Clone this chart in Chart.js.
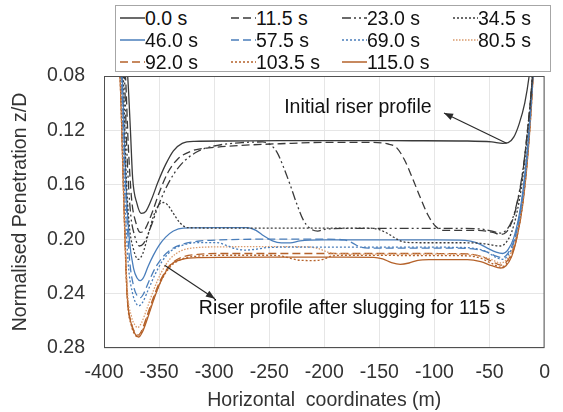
<!DOCTYPE html>
<html>
<head>
<meta charset="utf-8">
<script src="https://cdn.jsdelivr.net/npm/chart.js@4.4.1/dist/chart.umd.min.js"></script>
<style>
    html, body { margin: 0; padding: 0; background: #fff; }
    #wrap { position: relative; width: 563px; height: 412px; }
    #legend {
        position: absolute; left: 115px; top: 5px; width: 436px; height: 67px;
        border: 1px solid #a6a6a6; background: #fff; box-sizing: border-box;
        padding: 1px 0 0 4px; display: grid; grid-template-columns: 111px 111px 111px 100px;
        grid-auto-rows: 22px; font-family: "Liberation Sans", Arial, sans-serif; font-size: 19.5px; color: #111;
    }
    #legend .item { display: flex; align-items: center; white-space: nowrap; }
    #legend svg { flex: none; }
</style>
</head>
<body>
<div id="wrap">
    <canvas id="chart" width="563" height="412"></canvas>
    <div id="legend"></div>
</div>
<script>
// time labels of the riser profiles
const times = ['0.0 s', '11.5 s', '23.0 s', '34.5 s', '46.0 s', '57.5 s', '69.0 s', '80.5 s', '92.0 s', '103.5 s', '115.0 s'];

const xTicks = [-400, -350, -300, -250, -200, -150, -100, -50, 0];
const yTicks = [0.08, 0.12, 0.16, 0.20, 0.24, 0.28];

// profiles: [horizontal coordinate (m), z/D]
const p0 = [[-381, 0.06], [-378.5, 0.08], [-376, 0.12], [-374, 0.155], [-370, 0.174], [-366, 0.181], [-362, 0.1795], [-357, 0.171], [-351, 0.158], [-344, 0.145], [-337, 0.135], [-329, 0.1295], [-318, 0.128], [-290, 0.1278], [-240, 0.1275], [-180, 0.1275], [-120, 0.1276], [-70, 0.1278], [-48, 0.1285], [-38, 0.1295], [-33, 0.129], [-28, 0.125], [-23, 0.115], [-18, 0.1], [-14, 0.08], [-12, 0.065]];
const p1 = [[-383, 0.06], [-380.5, 0.08], [-378, 0.13], [-375, 0.17], [-371, 0.188], [-367, 0.195], [-363, 0.193], [-357, 0.182], [-350, 0.166], [-342, 0.151], [-333, 0.141], [-320, 0.135], [-300, 0.1325], [-275, 0.131], [-240, 0.1298], [-200, 0.1288], [-160, 0.1288], [-142, 0.13], [-134, 0.133], [-127, 0.142], [-120, 0.155], [-113, 0.169], [-106, 0.182], [-99, 0.1905], [-92, 0.1935], [-80, 0.1935], [-60, 0.1935], [-47, 0.195], [-40, 0.1965], [-35, 0.195], [-30, 0.188], [-25, 0.174], [-20, 0.152], [-15.5, 0.12], [-11.5, 0.085], [-10, 0.065]];
const p2 = [[-384, 0.06], [-381.5, 0.08], [-379, 0.14], [-376, 0.18], [-372, 0.198], [-368, 0.205], [-364, 0.203], [-358, 0.192], [-350, 0.174], [-341, 0.158], [-330, 0.145], [-315, 0.1355], [-297, 0.131], [-275, 0.129], [-256, 0.1285], [-249, 0.1305], [-243, 0.136], [-237, 0.147], [-231, 0.16], [-225, 0.174], [-219, 0.186], [-213, 0.192], [-206, 0.194], [-198, 0.1925], [-170, 0.192], [-120, 0.192], [-80, 0.192], [-58, 0.1925], [-46, 0.1945], [-40, 0.1955], [-35, 0.1935], [-30, 0.187], [-25, 0.173], [-20, 0.151], [-15.5, 0.12], [-11.5, 0.085], [-10, 0.065]];
const p3 = [[-385, 0.06], [-382.5, 0.08], [-380, 0.15], [-377, 0.19], [-373, 0.208], [-369, 0.2148], [-365, 0.211], [-360, 0.197], [-355, 0.183], [-350, 0.1745], [-346, 0.173], [-342, 0.175], [-337, 0.181], [-331, 0.188], [-324, 0.1915], [-300, 0.1918], [-250, 0.1918], [-200, 0.1918], [-160, 0.1918], [-150, 0.193], [-142, 0.196], [-134, 0.2], [-126, 0.2023], [-110, 0.2026], [-80, 0.2026], [-58, 0.203], [-46, 0.2045], [-40, 0.205], [-35, 0.2025], [-30, 0.195], [-25, 0.18], [-20, 0.156], [-15.5, 0.122], [-11.5, 0.085], [-10, 0.065]];
const p4 = [[-386, 0.06], [-383.5, 0.08], [-380, 0.16], [-377, 0.2], [-373, 0.222], [-370, 0.2285], [-367, 0.2305], [-364, 0.228], [-360, 0.22], [-355, 0.2115], [-350, 0.2045], [-344, 0.1985], [-337, 0.194], [-328, 0.1918], [-300, 0.1915], [-270, 0.1915], [-262, 0.1935], [-255, 0.1975], [-247, 0.2013], [-239, 0.2027], [-231, 0.2027], [-222, 0.2012], [-200, 0.2005], [-150, 0.2005], [-100, 0.2005], [-72, 0.2008], [-62, 0.2025], [-52, 0.2065], [-44, 0.2095], [-38, 0.2105], [-33, 0.2075], [-28, 0.199], [-23, 0.182], [-19, 0.16], [-15, 0.128], [-11.5, 0.09], [-9.5, 0.065]];
const p5 = [[-386.5, 0.06], [-384, 0.08], [-380, 0.17], [-377, 0.213], [-373, 0.235], [-370, 0.2415], [-367, 0.243], [-364, 0.24], [-359, 0.2305], [-353, 0.2205], [-346, 0.2125], [-338, 0.207], [-328, 0.2035], [-315, 0.2015], [-295, 0.2005], [-250, 0.2], [-200, 0.2], [-182, 0.2005], [-175, 0.2025], [-168, 0.2055], [-160, 0.2065], [-120, 0.2065], [-80, 0.2065], [-62, 0.2075], [-52, 0.2095], [-44, 0.2125], [-38, 0.2135], [-33, 0.21], [-28, 0.2015], [-23, 0.184], [-19, 0.162], [-15, 0.13], [-11.5, 0.09], [-9.5, 0.065]];
const p6 = [[-387, 0.06], [-384.5, 0.08], [-381, 0.17], [-378, 0.218], [-374, 0.24], [-371, 0.247], [-368.5, 0.249], [-365, 0.2465], [-360, 0.2375], [-354, 0.2265], [-347, 0.216], [-339, 0.2085], [-329, 0.2045], [-315, 0.2025], [-298, 0.2025], [-289, 0.2045], [-281, 0.207], [-272, 0.208], [-263, 0.2075], [-252, 0.2062], [-230, 0.2058], [-180, 0.2058], [-120, 0.2058], [-80, 0.206], [-62, 0.207], [-52, 0.2095], [-44, 0.2135], [-38, 0.2148], [-33, 0.2115], [-28, 0.203], [-23, 0.186], [-19, 0.164], [-15, 0.132], [-11.5, 0.092], [-9.5, 0.065]];
const p7 = [[-387.5, 0.06], [-385, 0.08], [-382, 0.17], [-379, 0.235], [-375, 0.257], [-372, 0.263], [-369.5, 0.265], [-366, 0.2615], [-361, 0.251], [-355, 0.2375], [-348, 0.2245], [-340, 0.2145], [-330, 0.2085], [-316, 0.2062], [-290, 0.2056], [-250, 0.2055], [-215, 0.2056], [-205, 0.207], [-197, 0.2095], [-188, 0.2107], [-150, 0.211], [-100, 0.211], [-70, 0.2112], [-58, 0.2125], [-48, 0.215], [-40, 0.2175], [-35, 0.2155], [-30, 0.209], [-25, 0.195], [-20, 0.172], [-16, 0.142], [-12, 0.1], [-9.5, 0.065]];
const p8 = [[-387.5, 0.06], [-385, 0.08], [-382, 0.17], [-379, 0.24], [-375, 0.262], [-372, 0.2685], [-369, 0.2705], [-366, 0.2675], [-361, 0.2565], [-355, 0.2425], [-348, 0.229], [-340, 0.219], [-330, 0.2135], [-315, 0.2112], [-290, 0.2105], [-200, 0.2105], [-120, 0.2105], [-70, 0.2108], [-58, 0.2125], [-48, 0.2162], [-40, 0.219], [-35, 0.217], [-30, 0.2105], [-25, 0.1965], [-20, 0.173], [-16, 0.143], [-12, 0.1], [-9.5, 0.065]];
const p9 = [[-388, 0.06], [-385.5, 0.08], [-382, 0.175], [-379, 0.242], [-375, 0.264], [-372, 0.27], [-369, 0.272], [-366, 0.269], [-361, 0.258], [-355, 0.244], [-348, 0.2305], [-340, 0.2205], [-330, 0.2148], [-315, 0.2125], [-290, 0.2118], [-250, 0.2118], [-238, 0.2125], [-230, 0.2142], [-222, 0.2155], [-210, 0.2157], [-201, 0.2148], [-194, 0.2125], [-180, 0.2118], [-120, 0.212], [-70, 0.2122], [-58, 0.214], [-48, 0.2178], [-40, 0.2205], [-35, 0.2185], [-30, 0.212], [-25, 0.198], [-20, 0.175], [-16, 0.145], [-12, 0.102], [-9.5, 0.065]];
const p10 = [[-388, 0.06], [-385.5, 0.08], [-382, 0.17], [-379, 0.24], [-375, 0.263], [-371.5, 0.27], [-368.5, 0.272], [-365, 0.268], [-360, 0.257], [-354, 0.2425], [-347, 0.2285], [-339, 0.2185], [-329, 0.2148], [-315, 0.2135], [-250, 0.2132], [-190, 0.2132], [-155, 0.2133], [-147, 0.2145], [-139, 0.2172], [-131, 0.2185], [-123, 0.2175], [-115, 0.2155], [-105, 0.215], [-70, 0.215], [-58, 0.2165], [-48, 0.2195], [-40, 0.2212], [-35, 0.2195], [-30, 0.213], [-25, 0.1985], [-20, 0.1755], [-16, 0.146], [-12, 0.103], [-9.5, 0.065]];
const profiles = [p0, p1, p2, p3, p4, p5, p6, p7, p8, p9, p10];

// line styles
const BLACK = '#3a3a3a', BLUE = '#4a7ebb', BROWN = '#b5622a', TAN = '#d99a6c';
const colors = [BLACK, BLACK, BLACK, BLACK, BLUE, BLUE, BLUE, TAN, BROWN, BROWN, BROWN];
const dashes = [[], [8, 4], [9, 3, 2, 3, 2, 3], [2, 2], [], [8, 4], [2, 2], [1.5, 1.5], [8, 4], [2, 2], []];

// callouts, placed in data units
const notes = [
    { text: 'Initial riser profile', at: [-169.5, 0.1035], from: [-34.5, 0.1295], to: [-91.3, 0.1072] },
    { text: 'Riser profile after slugging for 115 s', at: [-174.8, 0.251], from: [-345, 0.2191], to: [-299.3, 0.2437] }
];

const FONT = '"Liberation Sans", Arial, sans-serif';

const legendEl = document.getElementById('legend');
times.forEach((t, i) => {
    const item = document.createElement('div');
    item.className = 'item';
    item.innerHTML = `<svg width="25" height="10"><line x1="0" y1="5" x2="25" y2="5" stroke="${colors[i]}" stroke-width="1.5" stroke-dasharray="${dashes[i].join(' ')}"/></svg><span>${t}</span>`;
    legendEl.appendChild(item);
});

const framePlugin = {
    id: 'frame',
    afterDatasetsDraw(chart) {
        const { ctx, chartArea: a, scales } = chart;
        ctx.save();
        ctx.strokeStyle = '#505050';
        ctx.lineWidth = 1;
        ctx.strokeRect(a.left + 0.5, a.top + 0.5, a.right - a.left - 1, a.bottom - a.top - 1);

        ctx.font = `19.5px ${FONT}`;
        ctx.textAlign = 'center';
        ctx.textBaseline = 'middle';
        notes.forEach(n => {
            const px = v => [scales.x.getPixelForValue(v[0]), scales.y.getPixelForValue(v[1])];
            const [tx, ty] = px(n.at);
            ctx.fillStyle = '#111';
            ctx.fillText(n.text, tx, ty);
            const [x0, y0] = px(n.from);
            const [x1, y1] = px(n.to);
            ctx.strokeStyle = '#2a2a2a';
            ctx.lineWidth = 1.2;
            ctx.beginPath();
            ctx.moveTo(x0, y0);
            ctx.lineTo(x1, y1);
            ctx.stroke();
            // arrow head at the far end
            const ang = Math.atan2(y1 - y0, x1 - x0);
            const c = Math.cos(ang), s = Math.sin(ang);
            ctx.fillStyle = '#2a2a2a';
            ctx.beginPath();
            ctx.moveTo(x1, y1);
            ctx.lineTo(x1 - 9 * c + 3.5 * s, y1 - 9 * s - 3.5 * c);
            ctx.lineTo(x1 - 9 * c - 3.5 * s, y1 - 9 * s + 3.5 * c);
            ctx.closePath();
            ctx.fill();
        });
        ctx.restore();
    }
};

new Chart(document.getElementById('chart').getContext('2d'), {
    type: 'line',
    data: {
        datasets: profiles.map((p, i) => ({
            label: times[i],
            data: p.map(([x, y]) => ({ x, y })),
            borderColor: colors[i],
            borderDash: dashes[i],
            borderWidth: 1.3,
            pointRadius: 0,
            fill: false,
            cubicInterpolationMode: 'monotone'
        }))
    },
    options: {
        responsive: false,
        animation: false,
        layout: { padding: { top: 76, right: 6, left: 0, bottom: 0 } },
        plugins: { legend: { display: false }, tooltip: { enabled: false } },
        scales: {
            x: {
                type: 'linear',
                min: xTicks[0],
                max: xTicks[xTicks.length - 1],
                afterBuildTicks: s => { s.ticks = xTicks.map(v => ({ value: v })); },
                afterFit: s => { s.height = 64; },
                grid: { color: '#e6e6e6', drawTicks: false },
                border: { display: false },
                ticks: { padding: 13, color: '#333', font: { family: FONT, size: 19.5 }, callback: v => String(v) },
                title: { display: true, text: 'Horizontal  coordinates (m)', color: '#333', font: { family: FONT, size: 19.5 }, padding: { top: 0, bottom: 0 } }
            },
            y: {
                type: 'linear',
                reverse: true,
                min: yTicks[0],
                max: yTicks[yTicks.length - 1],
                afterBuildTicks: s => { s.ticks = yTicks.map(v => ({ value: v })); },
                afterFit: s => { s.width = 104; },
                grid: { color: '#e6e6e6', drawTicks: false },
                border: { display: false },
                ticks: { padding: 19, color: '#333', font: { family: FONT, size: 19.5 }, callback: v => v.toFixed(2) },
                title: { display: true, text: 'Normalised Penetration z/D', color: '#333', font: { family: FONT, size: 19.5 }, padding: { top: 9, bottom: 0 } }
            }
        }
    },
    plugins: [framePlugin]
});
</script>
</body>
</html>
